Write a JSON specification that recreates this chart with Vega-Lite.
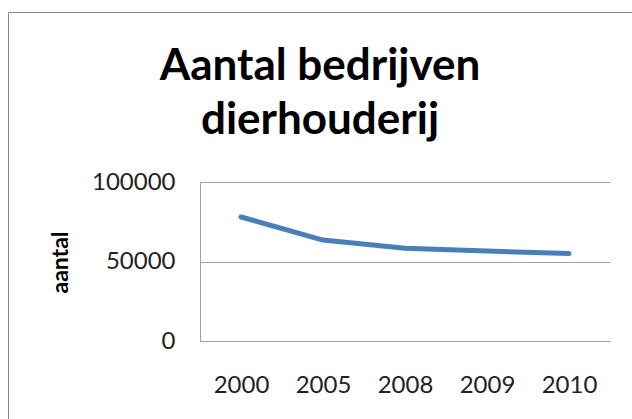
{
  "$schema": "https://vega.github.io/schema/vega-lite/v6.json",
  "width": 624,
  "height": 407,
  "autosize": {"type": "none"},
  "padding": {"left": 8, "top": 12, "right": 0, "bottom": 0},
  "background": "white",
  "title": {
    "text": ["Aantal bedrijven", "dierhouderij"],
    "font": "Lato",
    "fontSize": 44,
    "fontWeight": "bold",
    "color": "#000000",
    "anchor": "middle",
    "frame": "group",
    "lineHeight": 54,
    "baseline": "alphabetic",
    "offset": -166
  },
  "config": {"view": {"stroke": "#888888", "strokeWidth": 1, "strokeDash": [624, 1031, 407]}},
  "data": {
    "values": [
      {"jaar": "2000", "aantal": 78000},
      {"jaar": "2005", "aantal": 63500},
      {"jaar": "2008", "aantal": 58300},
      {"jaar": "2009", "aantal": 56600},
      {"jaar": "2010", "aantal": 55000}
    ]
  },
  "mark": {"type": "line", "color": "#4A7EBB", "strokeWidth": 5, "strokeCap": "round", "strokeJoin": "round"},
  "encoding": {
    "x": {
      "field": "jaar",
      "type": "ordinal",
      "sort": null,
      "scale": {"type": "point", "range": [192, 602], "padding": 0.5},
      "axis": {
        "orient": "bottom",
        "offset": -78,
        "grid": false,
        "domainColor": "#A0A0A0",
        "ticks": false,
        "tickSize": 0,
        "labelPadding": 51,
        "labelBaseline": "alphabetic",
        "labelFont": "Lato",
        "labelFontSize": 24,
        "labelColor": "#222222",
        "labelAngle": 0,
        "title": null
      }
    },
    "y": {
      "field": "aantal",
      "type": "quantitative",
      "scale": {"domain": [0, 100000], "range": [329, 170], "nice": false},
      "axis": {
        "orient": "left",
        "offset": -192,
        "values": [0, 50000, 100000],
        "format": "d",
        "grid": true,
        "gridColor": "#A0A0A0",
        "domainColor": "#A0A0A0",
        "ticks": false,
        "tickSize": 0,
        "labelPadding": 25,
        "labelFont": "Lato",
        "labelFontSize": 24,
        "labelColor": "#222222",
        "title": "aantal",
        "titleFont": "Lato",
        "titleFontSize": 23,
        "titleFontWeight": "bold",
        "titleColor": "#000000",
        "titleAngle": -90,
        "titleX": -133,
        "titleY": 250,
        "titleAlign": "center",
        "titleBaseline": "alphabetic"
      }
    }
  }
}
